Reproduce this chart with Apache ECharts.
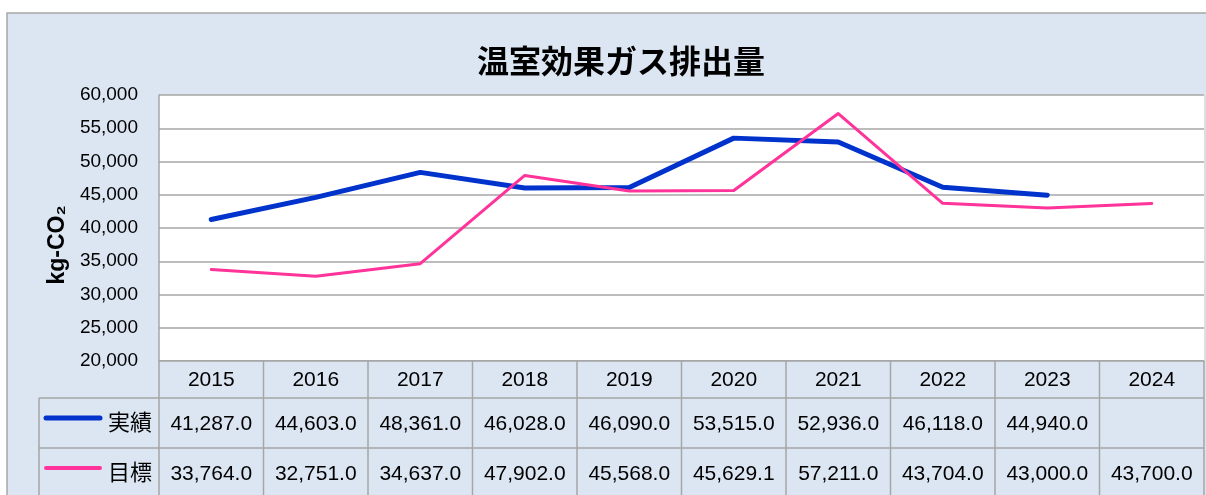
<!DOCTYPE html>
<html>
<head>
<meta charset="utf-8">
<script src="https://cdn.jsdelivr.net/npm/echarts@6/dist/echarts.min.js"></script>
<style>
  html, body { margin: 0; padding: 0; background: #fff; }
  #main { width: 1206px; height: 495px; }
</style>
</head>
<body>
<div id="main"></div>
<script>
// 年度
var years = ['2015', '2016', '2017', '2018', '2019', '2020', '2021', '2022', '2023', '2024'];
// 実績
var actual = [41287, 44603, 48361, 46028, 46090, 53515, 52936, 46118, 44940, null];
// 目標
var target = [33764, 32751, 34637, 47902, 45568, 45629.1, 57211, 43704, 43000, 43700];
var seriesNames = ['実績', '目標'];
var seriesColors = ['#0033CC', '#FF3399'];

var latinFont = '"Liberation Sans", Arial, sans-serif';
var cjkFont = '"Noto Sans CJK JP", sans-serif';
var gridColor = '#A6A6A6';
var bgBlue = '#DCE6F2';

function fmt(v) {
    if (v == null) return '';
    return v.toLocaleString('en-US', { minimumFractionDigits: 1, maximumFractionDigits: 1 });
}

var chart = echarts.init(document.getElementById('main'));

var option = {
    backgroundColor: '#fff',
    animation: false,
    title: {
        text: '温室効果ガス排出量',
        left: 472,
        top: 40,
        textStyle: { fontFamily: cjkFont, fontSize: 32, fontWeight: 'bold', color: '#000' }
    },
    grid: {
        left: 159, top: 95, width: 1045, height: 266,
        show: true, backgroundColor: '#fff', borderWidth: 0
    },
    xAxis: {
        type: 'category',
        data: years,
        boundaryGap: true,
        axisLine: { lineStyle: { color: gridColor, width: 1.5 } },
        axisTick: { show: false },
        axisLabel: { show: false }
    },
    yAxis: {
        type: 'value',
        min: 20000, max: 60000, interval: 5000,
        axisLine: { show: true, lineStyle: { color: gridColor, width: 1.5 } },
        axisTick: { show: false },
        splitLine: { lineStyle: { color: gridColor, width: 1.5 } },
        axisLabel: {
            margin: 21, fontFamily: latinFont, fontSize: 19, color: '#000',
            formatter: function (v) { return v.toLocaleString('en-US'); }
        }
    },
    series: [
        {
            name: seriesNames[0], type: 'line', data: actual,
            symbol: 'none',
            lineStyle: { color: seriesColors[0], width: 5, cap: 'round', join: 'round' }
        },
        {
            name: seriesNames[1], type: 'line', data: target,
            symbol: 'none',
            lineStyle: { color: seriesColors[1], width: 3, cap: 'round', join: 'round' }
        }
    ]
};
chart.setOption(option);

// データテーブル（凡例付き）を軸の位置から組み立てる
var x0 = chart.convertToPixel({ xAxisIndex: 0 }, 0);
var x1 = chart.convertToPixel({ xAxisIndex: 0 }, 1);
var bw = x1 - x0;
var left = x0 - bw / 2;
var right = left + bw * years.length;
var axisY = chart.convertToPixel({ yAxisIndex: 0 }, 20000);
var headH = 37, rowH = 50, keyLeft = 39;
var rowTop = [axisY + headH, axisY + headH + rowH];
var lineStyle = { stroke: gridColor, lineWidth: 1.5 };
var g = [];

// 外枠と表の背景
g.push({ type: 'rect', z: -10, shape: { x: 7, y: 13, width: 1220, height: 500 }, style: { fill: bgBlue, stroke: gridColor, lineWidth: 1.5 } });
g.push({ type: 'rect', z: 10, shape: { x: left, y: axisY, width: right - left, height: 200 }, style: { fill: bgBlue } });
g.push({ type: 'rect', z: 10, shape: { x: keyLeft, y: rowTop[0], width: left - keyLeft, height: 200 }, style: { fill: bgBlue } });
// プロット右端の細線
g.push({ type: 'line', z: 11, shape: { x1: right + 1, y1: 95, x2: right + 1, y2: axisY }, style: { stroke: '#D9D9D9', lineWidth: 1 } });

// 縦線
for (var k = 0; k <= years.length; k++) {
    var xx = left + bw * k;
    g.push({ type: 'line', z: 11, shape: { x1: xx, y1: axisY, x2: xx, y2: 520 }, style: lineStyle });
}
g.push({ type: 'line', z: 11, shape: { x1: keyLeft, y1: rowTop[0], x2: keyLeft, y2: 520 }, style: lineStyle });
// 横線
g.push({ type: 'line', z: 11, shape: { x1: left, y1: axisY, x2: right, y2: axisY }, style: lineStyle });
rowTop.forEach(function (y) {
    g.push({ type: 'line', z: 11, shape: { x1: keyLeft, y1: y, x2: right, y2: y }, style: lineStyle });
});
g.push({ type: 'line', z: 11, shape: { x1: keyLeft, y1: rowTop[1] + rowH, x2: right, y2: rowTop[1] + rowH }, style: lineStyle });

// 年ラベル
years.forEach(function (yr, i) {
    g.push({ type: 'text', z: 12, x: chart.convertToPixel({ xAxisIndex: 0 }, i), y: axisY + headH / 2 + 1,
        style: { text: yr, fontFamily: latinFont, fontSize: 21, fill: '#000', align: 'center', verticalAlign: 'middle' } });
});

// 値と凡例
[actual, target].forEach(function (arr, r) {
    var cy = rowTop[r] + rowH / 2 + 1;
    g.push({ type: 'line', z: 12, shape: { x1: 46, y1: cy - 6, x2: 100, y2: cy - 6 },
        style: { stroke: seriesColors[r], lineWidth: r === 0 ? 5 : 4, lineCap: 'round' } });
    g.push({ type: 'text', z: 12, x: 152, y: cy - 2,
        style: { text: seriesNames[r], fontFamily: cjkFont, fontSize: 22, fill: '#000', align: 'right', verticalAlign: 'middle' } });
    arr.forEach(function (v, i) {
        g.push({ type: 'text', z: 12, x: chart.convertToPixel({ xAxisIndex: 0 }, i), y: cy,
            style: { text: fmt(v), fontFamily: latinFont, fontSize: 21, fill: '#000', align: 'center', verticalAlign: 'middle' } });
    });
});

// 縦軸タイトル
g.push({ type: 'text', z: 12, x: 58, y: 245, rotation: Math.PI / 2,
    style: { text: 'kg-CO₂', fontFamily: latinFont, fontSize: 23, fontWeight: 'bold', fill: '#000', align: 'center', verticalAlign: 'middle' } });

chart.setOption({ graphic: g });
</script>
</body>
</html>
